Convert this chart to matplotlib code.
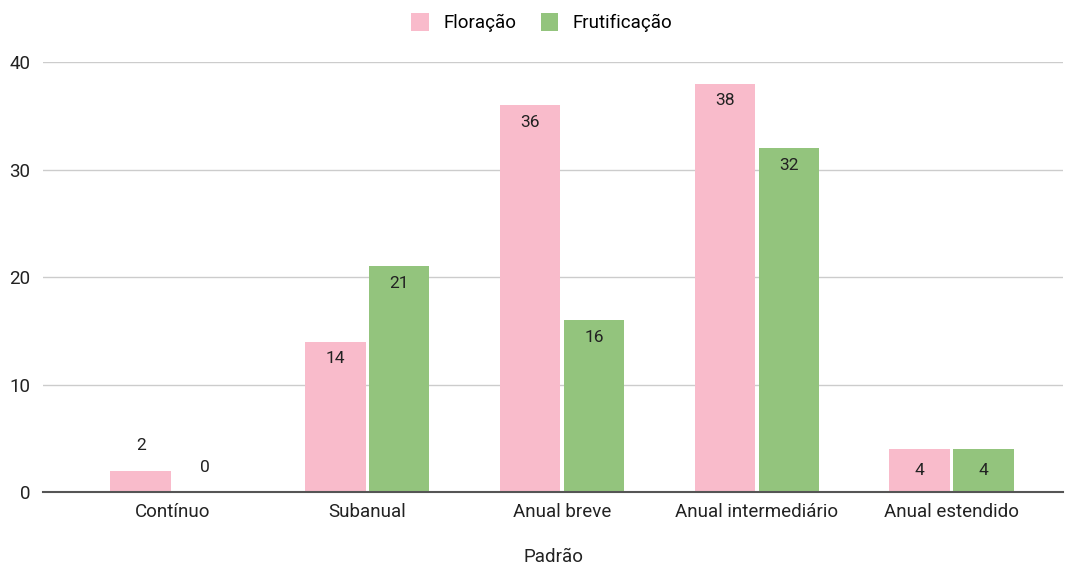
import matplotlib.pyplot as plt
import numpy as np

plt.rcParams['font.family'] = ['Roboto', 'DejaVu Sans']

categorias = ["Contínuo", "Subanual", "Anual breve", "Anual intermediário", "Anual estendido"]
floracao = [2, 14, 36, 38, 4]
frutificacao = [0, 21, 16, 32, 4]

pink = "#F9BBCB"
green = "#93C47D"

fig = plt.figure(figsize=(10.77, 5.65), dpi=100)
ax = fig.add_axes([0.04, 0.129, 0.947, 0.761])

x = np.arange(len(categorias))
w = 0.31
off = 0.164
b1 = ax.bar(x - off, floracao, w, color=pink, label="Floração", zorder=3)
b2 = ax.bar(x + off, frutificacao, w, color=green, label="Frutificação", zorder=3)

for bars in (b1, b2):
    for r in bars:
        h = r.get_height()
        cx = r.get_x() + r.get_width() / 2
        if h >= 5:
            ax.text(cx, h - 0.9, f"{int(h)}", ha="center", va="top", fontsize=12.5, color="#222222", zorder=4)
        elif h >= 4:
            ax.text(cx, h / 2, f"{int(h)}", ha="center", va="center", fontsize=12.5, color="#222222", zorder=4)
        else:
            ax.text(cx, h + 2.3, f"{int(h)}", ha="center", va="center", fontsize=12.5, color="#222222", zorder=4)

ax.set_xlim(-0.665, 4.572)
ax.set_ylim(0, 40)
ax.set_yticks([0, 10, 20, 30, 40])
ax.set_xticks(x)
ax.set_xticklabels(categorias)
ax.tick_params(length=0, labelsize=13.5, colors="#222222")
ax.tick_params(axis="x", pad=8)
ax.tick_params(axis="y", pad=9)
ax.grid(axis="y", color="#CCCCCC", linewidth=1, zorder=0)
for s in ["top", "right", "left"]:
    ax.spines[s].set_visible(False)
ax.spines["bottom"].set_color("#555555")
ax.spines["bottom"].set_linewidth(1.5)
ax.spines["bottom"].set_zorder(5)

ax.set_xlabel("Padrão", fontsize=13.5, color="#222222", labelpad=19)

fig.legend(loc="upper center", bbox_to_anchor=(0.503, 1.007), ncol=2, frameon=False,
           fontsize=13.5, handlelength=0.95, handleheight=1.1, columnspacing=1.3, handletextpad=0.75)

fig.savefig("out.png", dpi=100)
